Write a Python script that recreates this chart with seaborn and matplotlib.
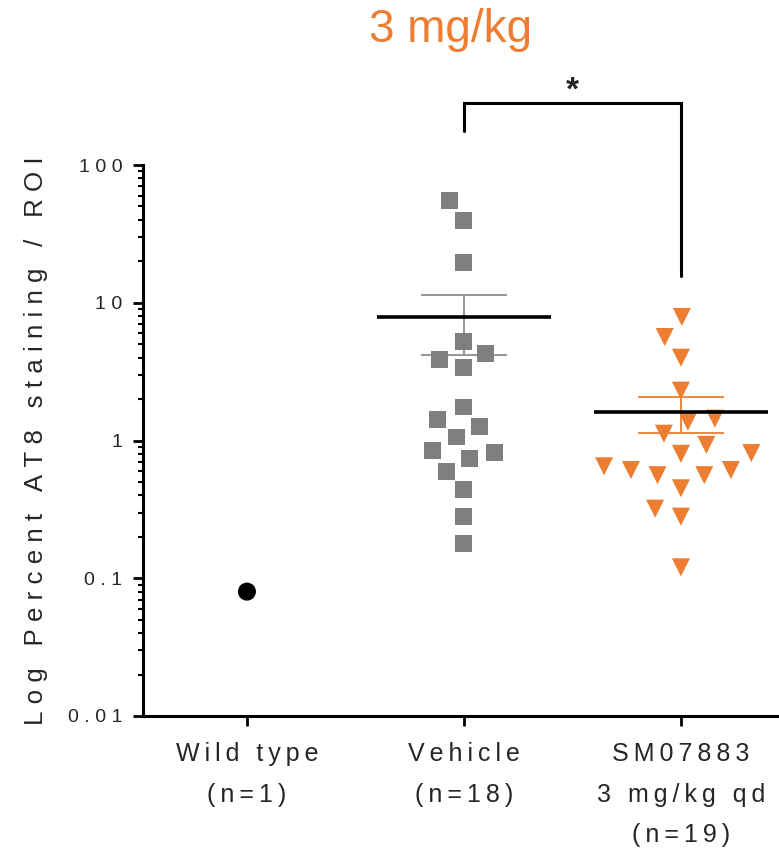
import numpy as np
import pandas as pd
import matplotlib
matplotlib.use("Agg")
import matplotlib.pyplot as plt
from matplotlib.ticker import LogLocator, FixedLocator, NullFormatter
import seaborn as sns

# Percent AT8-positive area per region of interest, one value per animal
groups = ["Wild type", "Vehicle", "SM07883"]
group_labels = ["Wild type\n(n=1)", "Vehicle\n(n=18)", "SM07883\n3 mg/kg qd\n(n=19)"]
wild_type = [0.08]
vehicle = [55.6, 39.3, 19.6, 5.25, 4.27, 3.9, 3.4, 1.75, 1.41, 1.27,
           1.06, 0.85, 0.82, 0.74, 0.60, 0.44, 0.28, 0.18]
sm07883 = [7.88, 5.64, 3.99, 2.30, 1.44, 1.37, 1.12, 0.93, 0.81, 0.80,
           0.65, 0.61, 0.61, 0.56, 0.56, 0.45, 0.32, 0.28, 0.12]
y_ticks = [0.01, 0.1, 1, 10, 100]
y_tick_labels = ["0.01", "0.1", "1", "10", "100"]

ORANGE = "#ED7D31"
GRAY = "#7F7F7F"

sns.set_style("ticks")
plt.rcParams["font.family"] = ["Liberation Sans", "DejaVu Sans"]


def tracked(s, gap="\u2009"):
    """Widen letter spacing by putting a narrow space between characters."""
    return "\n".join(gap.join(line) for line in s.split("\n"))


df = pd.DataFrame({
    "group": ["Wild type"] * len(wild_type) + ["Vehicle"] * len(vehicle) + ["SM07883"] * len(sm07883),
    "value": wild_type + vehicle + sm07883,
})

fig = plt.figure(figsize=(7.79, 8.5), dpi=100)
ax = fig.add_axes([143 / 779, 134 / 850, 636 / 779, 551 / 850])
ax.set_yscale("log")

# an invisible edge gives the swarm some breathing room between markers
styles = {
    "Wild type": dict(marker="o", color="black", size=13),
    "Vehicle": dict(marker="s", color=GRAY, size=12.2),
    "SM07883": dict(marker="v", color=ORANGE, size=13),
}

# mean +/- SEM for the treated groups, error bars under the points
for i, (g, vals, col) in enumerate([("Vehicle", vehicle, "#8C8C8C"), ("SM07883", sm07883, ORANGE)], start=1):
    v = np.asarray(vals)
    m = v.mean()
    sem = v.std(ddof=1) / np.sqrt(len(v))
    ax.errorbar(i, m, yerr=sem, fmt="none", ecolor=col, elinewidth=1.3,
                capsize=31, capthick=1.3, zorder=1)

for g in groups:
    sns.swarmplot(data=df[df["group"] == g], x="group", y="value", order=groups,
                  linewidth=5.6, edgecolor="none", ax=ax, zorder=2, **styles[g])

for i, vals in [(1, vehicle), (2, sm07883)]:
    ax.hlines(np.mean(vals), i - 0.4, i + 0.4, color="black", lw=2.6, zorder=4)

ax.set_xlim(-0.479, 2.452)
ax.set_ylim(0.01, 100)

ax.yaxis.set_major_locator(FixedLocator(y_ticks))
ax.set_yticklabels([tracked(t, "\u2009\u200a") for t in y_tick_labels])
ax.yaxis.set_minor_locator(LogLocator(base=10, subs=np.arange(2, 10)))
ax.yaxis.set_minor_formatter(NullFormatter())
ax.set_xticks(range(len(groups)))
ax.set_xticklabels([tracked(t) for t in group_labels], linespacing=1.85)

ax.tick_params(axis="y", which="major", direction="out", length=7, width=2.0,
               labelsize=14, pad=8, color="black")
ax.tick_params(axis="y", which="minor", direction="out", length=3.5, width=1.5, color="black")
ax.tick_params(axis="x", which="major", direction="out", length=7, width=2.0,
               labelsize=18, pad=12, color="black")

for side in ["top", "right"]:
    ax.spines[side].set_visible(False)
for side in ["left", "bottom"]:
    ax.spines[side].set_linewidth(2.2)
    ax.spines[side].set_color("black")

ax.set_xlabel("")
ax.set_ylabel(tracked("Log Percent AT8 staining / ROI", "\u2009\u200a"), fontsize=18.6, labelpad=14)

# significance bracket between vehicle and treated group
br_top = 280
ax.plot([1, 1, 2, 2], [max(vehicle) * 3.2, br_top, br_top, max(sm07883) * 2.0],
        color="black", lw=2.2, clip_on=False, solid_joinstyle="miter")
ax.text(1.5, br_top * 1.22, "*", ha="center", va="center", fontsize=24,
        fontweight="bold", clip_on=False)

fig.text(451 / 779, 1 - 30 / 850, "3 mg/kg", ha="center", va="center",
         fontsize=33, color=ORANGE)

fig.savefig("out.png", dpi=100)
